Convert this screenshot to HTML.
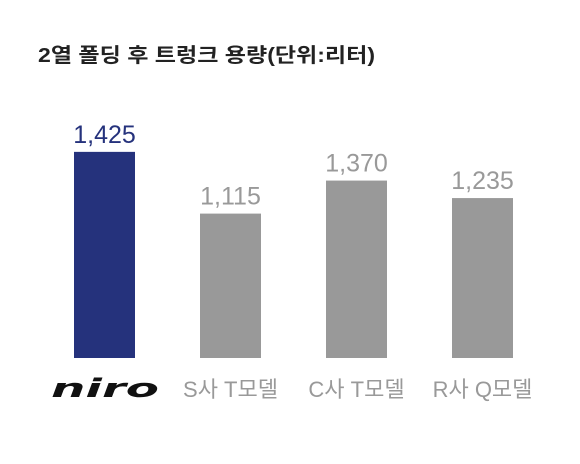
<!DOCTYPE html>
<html><head><meta charset="utf-8"><style>
html,body{margin:0;padding:0;background:#fff;}
body{width:580px;height:459px;overflow:hidden;font-family:"Liberation Sans","Noto Sans CJK KR",sans-serif;}
</style></head><body>
<svg id="chart" width="580" height="459" xmlns="http://www.w3.org/2000/svg">
<text x="38" y="62" font-family="'Liberation Sans','Noto Sans CJK KR',sans-serif" font-size="20" font-weight="bold" fill="#222" textLength="337" lengthAdjust="spacingAndGlyphs">2열 폴딩 후 트렁크 용량(단위:리터)</text>
</svg>
<script>
const categories=["niro","S사 T모델","C사 T모델","R사 Q모델"];
const values=[1425,1115,1370,1235];
const valueLabels=["1,425","1,115","1,370","1,235"];
const highlight=[true,false,false,false];
const svg=document.getElementById('chart');
const NS="http://www.w3.org/2000/svg";
const baseY=358, pxPer=0.1295, hiBoost=1.117;
function yH(v,h){return v*pxPer*(h?hiBoost:1);}
function xC(i){return 104.5+i*126;}
const bw=61;
categories.forEach((c,i)=>{
  const h=yH(values[i],highlight[i]);
  const r=document.createElementNS(NS,'rect');
  
  
  r.setAttribute('x',xC(i)-bw/2);r.setAttribute('y',baseY-h);
  r.setAttribute('width',bw);r.setAttribute('height',h);
  r.setAttribute('fill',highlight[i]?'#25327c':'#999999');
  svg.appendChild(r);
  const t=document.createElementNS(NS,'text');
  
  
  t.setAttribute('x',xC(i));t.setAttribute('y',baseY-h-9);
  t.setAttribute('text-anchor','middle');t.setAttribute('font-size','25');
  t.setAttribute('fill',highlight[i]?'#25327c':'#999999');
  t.setAttribute('font-family',"'Liberation Sans','Noto Sans CJK KR',sans-serif");
  t.textContent=valueLabels[i];
  svg.appendChild(t);
  const l=document.createElementNS(NS,'text');
  
  
  if(i===0){
    l.setAttribute('x',105);l.setAttribute('y',397);
    l.setAttribute('text-anchor','middle');l.setAttribute('font-size','26');
    l.setAttribute('font-weight','900');l.setAttribute('font-style','italic');
    l.setAttribute('fill','#111');
    l.setAttribute('textLength','108');l.setAttribute('lengthAdjust','spacingAndGlyphs');
    l.setAttribute('font-family',"'DejaVu Sans',sans-serif");
  } else {
    l.setAttribute('x',xC(i));l.setAttribute('y',397);
    l.setAttribute('text-anchor','middle');l.setAttribute('font-size','22');
    l.setAttribute('fill','#999999');
    l.setAttribute('font-family',"'Liberation Sans','Noto Sans CJK KR',sans-serif");
  }
  l.textContent=c;
  svg.appendChild(l);
});
</script>
</body></html>
